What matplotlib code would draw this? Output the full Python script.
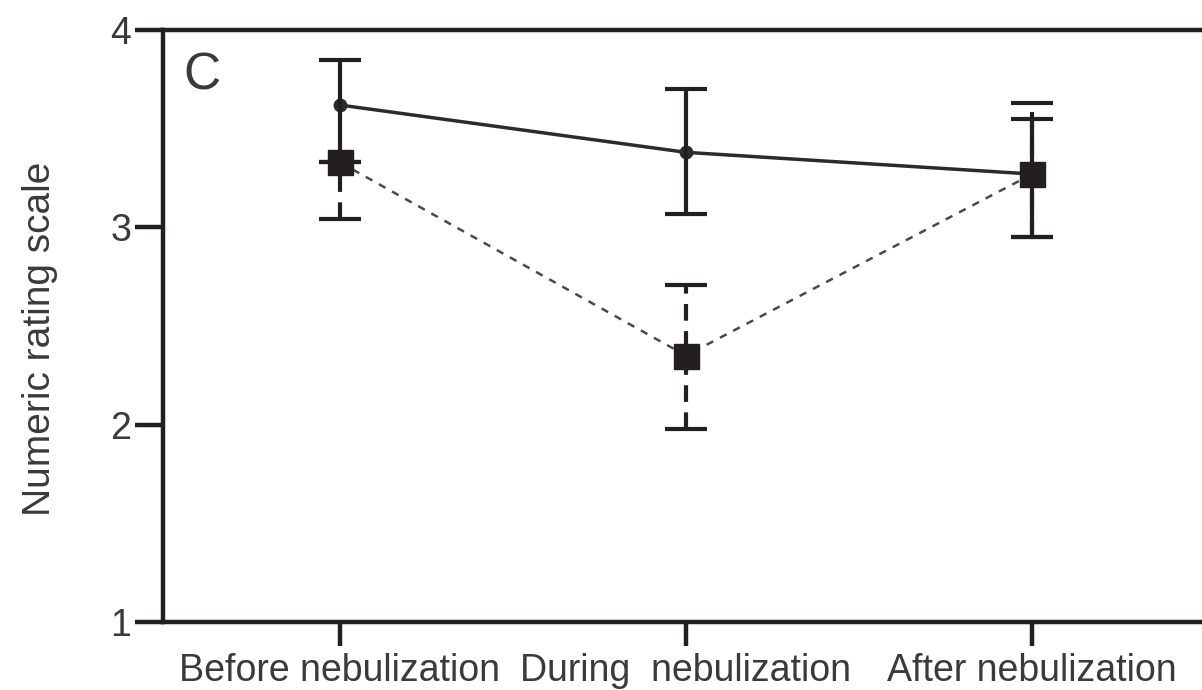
import numpy as np
import matplotlib.pyplot as plt

plt.rcParams['font.family'] = ['Liberation Sans', 'DejaVu Sans']

categories = ['Before nebulization', 'During  nebulization', 'After nebulization']
solid_mean = [3.62, 3.38, 3.27]
solid_err_low = [0.29, 0.31, 0.32]
solid_err_up = [0.23, 0.32, 0.28]
dashed_mean = [3.33, 2.35, 3.27]
dashed_err_low = [0.29, 0.37, 0.32]
dashed_err_up = [0.0, 0.36, 0.36]
y_ticks = [1, 2, 3, 4]

x = np.arange(len(categories))
text_color = '#3a3a3a'

fig = plt.figure(figsize=(12.02, 6.90), dpi=100)
ax = fig.add_axes([163 / 1202, 1 - 622 / 690, 1 - 163 / 1202, (622 - 30) / 690])

# solid series
ax.plot(x, solid_mean, color='#2b2b2b', lw=2.5, marker='o', ms=9, zorder=3)
ax.errorbar(x, solid_mean, yerr=[solid_err_low, solid_err_up], fmt='none',
            ecolor='#231f20', elinewidth=3, capsize=15, capthick=3, zorder=4)

# dashed series
ax.plot(x, dashed_mean, color='#4a4a4a', lw=1.8, ls=(0, (3, 3)), zorder=3)
eb = ax.errorbar(x, dashed_mean, yerr=[dashed_err_low, dashed_err_up], fmt='none',
                 ecolor='#231f20', elinewidth=3, capsize=15, capthick=3, zorder=4)
eb[2][0].set_linestyle((0, (4, 2.5)))
ax.plot(x, dashed_mean, ls='none', marker='s', ms=18, color='#231f20', zorder=5)

ax.set_xlim(-0.51, 2.49)
ax.set_ylim(1, 4)
ax.set_yticks(y_ticks)
ax.set_xticks(x)
ax.set_xticklabels(categories)

for side in ['top', 'left', 'bottom']:
    ax.spines[side].set_linewidth(3.2)
    ax.spines[side].set_color('#231f20')
ax.spines['right'].set_visible(False)

ax.tick_params(axis='y', length=20, width=3.2, color='#231f20', labelsize=27,
               labelcolor=text_color, pad=3)
ax.tick_params(axis='x', length=17, width=3.2, color='#231f20', labelsize=27,
               labelcolor=text_color, pad=5)

ax.set_ylabel('Numeric rating scale', fontsize=28, color=text_color)
ax.yaxis.set_label_coords(-(163 - 58) / 1039, (622 - 339) / 592)
ax.text(0.020, (622 - 90) / 592, 'C', transform=ax.transAxes, fontsize=37,
        color=text_color, va='baseline', ha='left')

fig.savefig('out.png', dpi=100)
